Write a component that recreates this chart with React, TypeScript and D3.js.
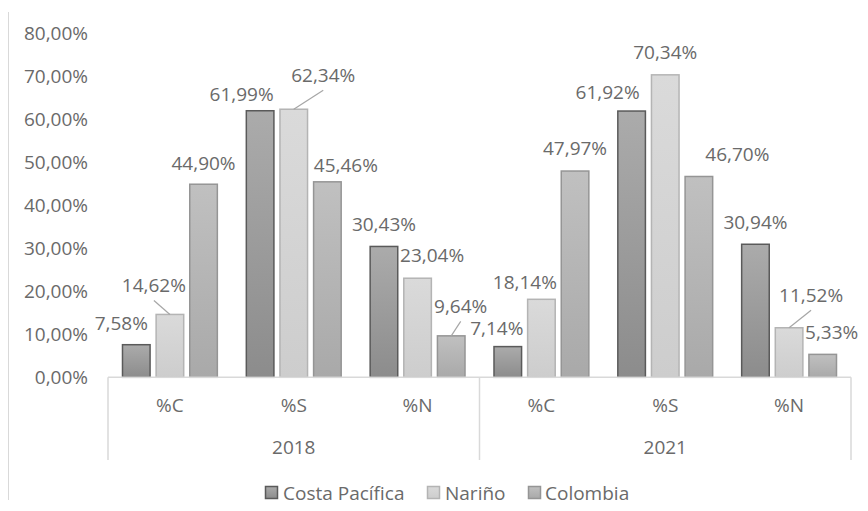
import React from "react";
import * as d3 from "d3";

const years = ["2018", "2021"];
const categories = ["%C", "%S", "%N"];
const seriesNames = ["Costa Pacífica", "Nariño", "Colombia"];
// values[series][year*3+category]
const costaPacifica = [0.0758, 0.6199, 0.3043, 0.0714, 0.6192, 0.3094];
const narino = [0.1462, 0.6234, 0.2304, 0.1814, 0.7034, 0.1152];
const colombia = [0.449, 0.4546, 0.0964, 0.4797, 0.467, 0.0533];
const yTicks = [0, 0.1, 0.2, 0.3, 0.4, 0.5, 0.6, 0.7, 0.8];

// manual data-label offsets (dx, dy from bar top centre) and leader flags
const labelOffsets = [
  [[-15, -21], [-18.5, -16], [0, -22], [-11, -18], [-24, -19], [0, -22]],
  [[-16, -29], [29.5, -34], [14.5, -23], [-16.5, -17], [0, -22], [22, -32.5]],
  [[0, -21], [18.5, -16.5], [9.5, -29.5], [0, -23], [38.5, -22], [9, -22]],
];
const leaders = [
  [false, false, false, false, false, false],
  [true, true, false, false, false, true],
  [false, false, true, false, false, false],
];

const styles = [
  { top: "#ababab", bottom: "#8c8c8c", stroke: "#5a5a5a" },
  { top: "#dadada", bottom: "#cdcdcd", stroke: "#b4b4b4" },
  { top: "#c0c0c0", bottom: "#a9a9a9", stroke: "#959595" },
];

const W = 868;
const H = 511;
const FONT = "'Open Sans', sans-serif";
const TEXT = "#6a6a6a";

const locale = d3.formatLocale({ decimal: ",", thousands: ".", grouping: [3], currency: ["", "€"] });
const pct = locale.format(".2%");

export default function App() {
  const allSeries = [costaPacifica, narino, colombia];
  const x0 = d3.scaleBand<string>().domain(years).range([108, 851]).padding(0);
  const x1 = d3
    .scaleBand<string>()
    .domain(categories)
    .range([0, x0.bandwidth()])
    .padding(0);
  const cw = x1.bandwidth();
  const x2 = d3
    .scaleBand<string>()
    .domain(seriesNames)
    .range([cw * 0.113, cw * 0.887])
    .paddingInner(0.15)
    .paddingOuter(0);
  const y = d3.scaleLinear().domain([0, 0.8]).range([377.3, 33.3]);
  const base = y(0);

  const bars: any[] = [];
  allSeries.forEach((vals, si) => {
    vals.forEach((v, i) => {
      const yr = years[Math.floor(i / 3)];
      const cat = categories[i % 3];
      const bx = (x0(yr) as number) + (x1(cat) as number) + (x2(seriesNames[si]) as number);
      bars.push({ si, i, v, x: bx, w: x2.bandwidth(), top: y(v) });
    });
  });

  return (
    <svg width={W} height={H} style={{ position: "absolute", left: 0, top: 0, background: "#fff" }}>
      <defs>
        {styles.map((s, i) => (
          <linearGradient key={i} id={`g${i}`} x1="0" y1="0" x2="0" y2="1">
            <stop offset="0" stopColor={s.top} />
            <stop offset="1" stopColor={s.bottom} />
          </linearGradient>
        ))}
      </defs>
      <rect x={0} y={0} width={W} height={H} fill="#fff" />
      <line x1={8.5} x2={8.5} y1={12} y2={500} stroke="#d9d9d9" strokeWidth={1} />

      {/* y tick labels */}
      {yTicks.map((t) => (
        <text
          key={t}
          x={88}
          y={y(t)}
          dy="0.35em"
          textAnchor="end"
          fontFamily={FONT}
          fontSize={19}
          fill={TEXT}
        >
          {pct(t)}
        </text>
      ))}

      {/* bars */}
      {bars.map((b) => (
        <rect
          key={`${b.si}-${b.i}`}
          x={b.x + 0.5}
          y={b.top}
          width={b.w - 1}
          height={base - b.top}
          fill={`url(#g${b.si})`}
          stroke={styles[b.si].stroke}
          strokeWidth={1.5}
        />
      ))}

      {/* category axis */}
      <line x1={x0.range()[0]} x2={x0.range()[1]} y1={base} y2={base} stroke="#d9d9d9" strokeWidth={1.5} />
      {[x0.range()[0], (x0(years[1]) as number), x0.range()[1]].map((xv, i) => (
        <line key={i} x1={xv} x2={xv} y1={base} y2={460} stroke="#d9d9d9" strokeWidth={1.5} />
      ))}
      {years.map((yr) =>
        categories.map((c) => (
          <text
            key={yr + c}
            x={(x0(yr) as number) + (x1(c) as number) + cw / 2}
            y={405}
            dy="0.35em"
            textAnchor="middle"
            fontFamily={FONT}
            fontSize={19}
            fill={TEXT}
          >
            {c}
          </text>
        ))
      )}
      {years.map((yr) => (
        <text
          key={yr}
          x={(x0(yr) as number) + x0.bandwidth() / 2}
          y={447}
          dy="0.35em"
          textAnchor="middle"
          fontFamily={FONT}
          fontSize={19}
          fill={TEXT}
        >
          {yr}
        </text>
      ))}

      {/* data labels */}
      {bars.map((b) => {
        const [dx, dy] = labelOffsets[b.si][b.i];
        const cx = b.x + b.w / 2;
        const lx = cx + dx;
        const ly = b.top + dy;
        return (
          <g key={`l${b.si}-${b.i}`}>
            {leaders[b.si][b.i] && (
              <line x1={cx} y1={b.top} x2={lx} y2={ly + 15} stroke="#a6a6a6" strokeWidth={1.2} />
            )}
            <text
              x={lx}
              y={ly}
              dy="0.35em"
              textAnchor="middle"
              fontFamily={FONT}
              fontSize={19}
              fill={TEXT}
            >
              {pct(b.v)}
            </text>
          </g>
        );
      })}

      {/* legend */}
      {[
        { sq: 265, tx: 283 },
        { sq: 427, tx: 445 },
        { sq: 528, tx: 545 },
      ].map((p, i) => (
        <g key={i}>
          <rect x={p.sq + 0.5} y={486.5} width={12} height={12} fill={`url(#g${i})`} stroke={styles[i].stroke} strokeWidth={1.5} />
          <text x={p.tx} y={493} dy="0.35em" fontFamily={FONT} fontSize={19} fill={TEXT}>
            {seriesNames[i]}
          </text>
        </g>
      ))}
    </svg>
  );
}
